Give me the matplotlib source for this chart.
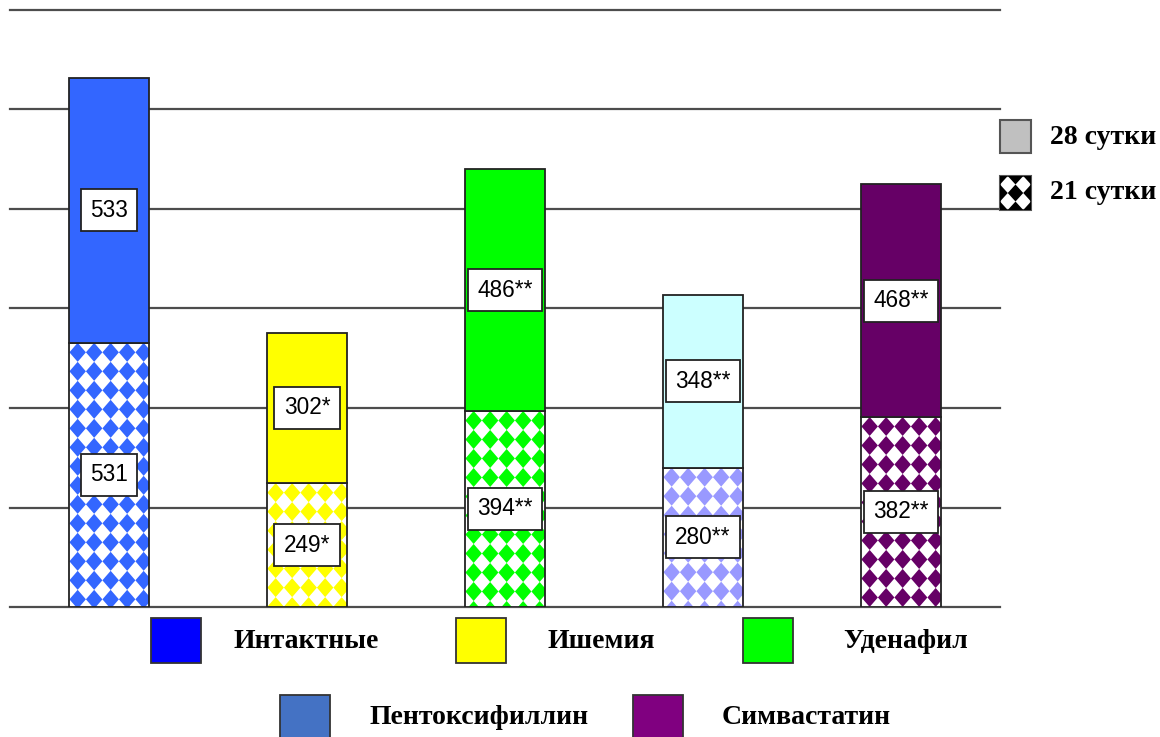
import matplotlib.pyplot as plt
from matplotlib.patches import Rectangle, Polygon
from matplotlib.collections import PolyCollection

# Group names and colours
groups = ['Интактные', 'Ишемия', 'Уденафил', 'Пентоксифиллин', 'Симвастатин']
legend_colors = ['#0000FF', '#FFFF00', '#00FF00', '#4472C4', '#800080']

# Values for day 21 (bottom, patterned) and day 28 (top, solid)
day21 = [531, 249, 394, 280, 382]
day28 = [533, 302, 486, 348, 468]
marks21 = ['', '*', '**', '**', '**']
marks28 = ['', '*', '**', '**', '**']

top_colors = ['#3366FF', '#FFFF00', '#00FF00', '#CCFFFF', '#660066']
pattern_colors = ['#3366FF', '#FFFF00', '#00FF00', '#9999FF', '#660066']

grid_values = [0, 200, 400, 600, 800, 1000, 1200]

serif = ['Liberation Serif', 'DejaVu Serif']
sans = ['Liberation Sans', 'DejaVu Sans']

fig = plt.figure(figsize=(11.6, 7.37), dpi=100)
ax = fig.add_axes([10 / 1160, 130 / 737, 990 / 1160, 597 / 737])
ax.set_xlim(-0.5, 4.5)
ax.set_ylim(0, 1200)
ax.axis('off')

for g in grid_values:
    ax.axhline(g, color='#4d4d4d', lw=1.6, zorder=0, clip_on=False)

x = list(range(len(groups)))
width = 0.4
edge = '#222222'

# bottom segment: white fill, then diamond checker pattern clipped to the bar
bottom_bars = ax.bar(x, day21, width=width, color='white', edgecolor='none', zorder=2)
dx = 16.5 / 198.0          # diamond spacing in x units
dy = 19.0 * 1200 / 597.0   # diamond spacing in y units
for i, bar in enumerate(bottom_bars):
    left = bar.get_x()
    top = bar.get_height()
    polys = []
    for k in range(-1, 7):
        cx = left + dx / 2 + k * dx
        cy = top - dy / 2
        while cy > -dy:
            polys.append([(cx, cy + dy / 2), (cx + dx / 2, cy),
                          (cx, cy - dy / 2), (cx - dx / 2, cy)])
            cy -= dy
    pc = PolyCollection(polys, facecolors=pattern_colors[i], edgecolors='none', zorder=2.2)
    ax.add_collection(pc)
    pc.set_clip_path(bar)
ax.bar(x, day21, width=width, fill=False, edgecolor=edge, lw=1.3, zorder=2.4)

# top segment: solid colour
ax.bar(x, day28, width=width, bottom=day21, color=top_colors, edgecolor=edge, lw=1.3, zorder=2.4)

# value boxes in the middle of each segment
box = dict(boxstyle='square,pad=0.42', fc='white', ec=edge, lw=1.3)
for i in x:
    ax.text(i, day21[i] / 2, f'{day21[i]}{marks21[i]}', ha='center', va='center',
            fontsize=16.3, family=sans, bbox=box, zorder=5)
    ax.text(i, day21[i] + day28[i] / 2, f'{day28[i]}{marks28[i]}', ha='center', va='center',
            fontsize=16.3, family=sans, bbox=box, zorder=5)

# overlay in pixel coordinates for the legends
lax = fig.add_axes([0, 0, 1, 1])
lax.set_xlim(0, 1160)
lax.set_ylim(737, 0)
lax.axis('off')

# right legend: days
lax.add_patch(Rectangle((1000, 120), 31, 33, fc='#C0C0C0', ec='#555555', lw=1.5))
lax.text(1050, 137, '28 сутки', ha='left', va='center', fontsize=20,
         fontweight='bold', family=serif)
icon = Rectangle((1000, 176), 31, 34, fc='white', ec='#555555', lw=1.5)
lax.add_patch(icon)
s = 31 / 2
for cx in [1000, 1000 + s, 1000 + 2 * s]:
    for cy in [176, 176 + 17, 176 + 34]:
        d = Polygon([(cx, cy - 8.5), (cx + s / 2, cy), (cx, cy + 8.5), (cx - s / 2, cy)],
                    closed=True, fc='black', ec='none')
        lax.add_patch(d)
        d.set_clip_path(icon)
lax.text(1050, 192, '21 сутки', ha='left', va='center', fontsize=20,
         fontweight='bold', family=serif)

# bottom legend: groups
legend_pos = [(151, 618, 233), (456, 618, 548), (743, 618, 843),
              (280, 695, 370), (633, 695, 722)]
for (sx, sy, tx), name, col in zip(legend_pos, groups, legend_colors):
    lax.add_patch(Rectangle((sx, sy), 50, 45, fc=col, ec='#333333', lw=1.3))
    lax.text(tx, sy + 23, name, ha='left', va='center', fontsize=20,
             fontweight='bold', family=serif)

fig.savefig('out.png', dpi=100)
